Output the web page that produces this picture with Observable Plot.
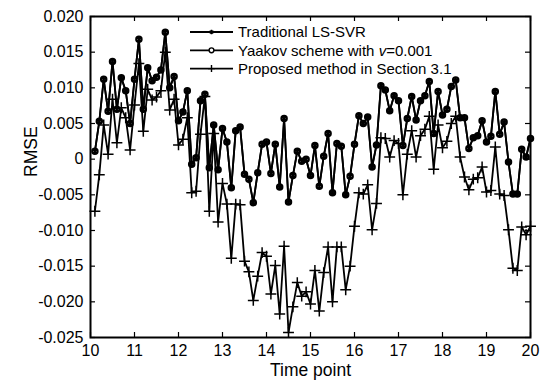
<!DOCTYPE html>
<html><head><meta charset="utf-8">
<script src="https://cdn.jsdelivr.net/npm/d3@7"></script>
<script src="https://cdn.jsdelivr.net/npm/@observablehq/plot@0.6"></script>
<style>body{margin:0;background:#fff;} #chart{width:544px;height:383px;}</style>
</head><body><div id="chart"></div>
<script>
const timePoints = [10.1,10.2,10.3,10.4,10.5,10.6,10.7,10.8,10.9,11.0,
  11.1,11.2,11.3,11.4,11.5,11.6,11.7,11.8,11.9,12.0,
  12.1,12.2,12.3,12.4,12.5,12.6,12.7,12.8,12.9,13.0,
  13.1,13.2,13.3,13.4,13.5,13.6,13.7,13.8,13.9,14.0,
  14.1,14.2,14.3,14.4,14.5,14.6,14.7,14.8,14.9,15.0,
  15.1,15.2,15.3,15.4,15.5,15.6,15.7,15.8,15.9,16.0,
  16.1,16.2,16.3,16.4,16.5,16.6,16.7,16.8,16.9,17.0,
  17.1,17.2,17.3,17.4,17.5,17.6,17.7,17.8,17.9,18.0,
  18.1,18.2,18.3,18.4,18.5,18.6,18.7,18.8,18.9,19.0,
  19.1,19.2,19.3,19.4,19.5,19.6,19.7,19.8,19.9,20.0];

const lsSvr = [0.0011,0.0053,0.0112,0.0067,0.0137,0.0070,0.0114,0.0096,0.0050,0.0112,
  0.0168,0.0070,0.0128,0.0110,0.0115,0.0125,0.0178,0.0100,0.0116,0.0054,
  0.0066,0.0096,-0.0007,0.0002,0.0082,0.0091,-0.0012,0.0048,-0.0015,0.0043,
  0.0024,-0.0040,0.0040,0.0045,-0.0021,-0.0028,-0.0061,-0.0019,0.0021,0.0024,
  -0.0020,0.0021,-0.0039,0.0057,-0.0060,-0.0023,0.0011,-0.0003,0.0000,-0.0023,
  0.0019,-0.0038,0.0004,0.0036,-0.0047,0.0022,0.0018,-0.0050,-0.0024,0.0021,
  0.0061,0.0050,0.0059,-0.0011,0.0020,0.0103,0.0097,0.0068,0.0089,0.0082,
  0.0019,0.0057,0.0088,0.0055,0.0082,0.0089,0.0109,0.0036,0.0095,0.0062,
  0.0070,0.0102,0.0111,0.0058,0.0058,0.0015,0.0030,0.0033,0.0054,0.0024,
  0.0032,0.0095,0.0035,0.0052,-0.0004,-0.0049,-0.0049,0.0014,0.0003,0.0029];

const yaakov = [0.0011,0.0053,0.0112,0.0067,0.0137,0.0070,0.0114,0.0096,0.0050,0.0112,
  0.0168,0.0070,0.0128,0.0110,0.0115,0.0125,0.0178,0.0100,0.0116,0.0054,
  0.0066,0.0096,-0.0007,0.0002,0.0082,0.0091,-0.0012,0.0048,-0.0015,0.0043,
  0.0024,-0.0040,0.0040,0.0045,-0.0021,-0.0028,-0.0061,-0.0019,0.0021,0.0024,
  -0.0020,0.0021,-0.0039,0.0057,-0.0060,-0.0023,0.0011,-0.0003,0.0000,-0.0023,
  0.0019,-0.0038,0.0004,0.0036,-0.0047,0.0022,0.0018,-0.0050,-0.0024,0.0021,
  0.0061,0.0050,0.0059,-0.0011,0.0020,0.0103,0.0097,0.0068,0.0089,0.0082,
  0.0019,0.0057,0.0088,0.0055,0.0082,0.0089,0.0109,0.0036,0.0095,0.0062,
  0.0070,0.0102,0.0111,0.0058,0.0058,0.0015,0.0030,0.0033,0.0054,0.0024,
  0.0032,0.0095,0.0035,0.0052,-0.0004,-0.0049,-0.0049,0.0014,0.0003,0.0029];

const proposed = [-0.0073,-0.0022,0.0048,0.0007,0.0084,0.0023,0.0072,0.0058,0.0013,0.0076,
  0.0134,0.0039,0.0098,0.0083,0.0087,0.0096,0.0150,0.0069,0.0084,0.0020,
  0.0028,0.0058,-0.0047,-0.0045,0.0035,0.0088,-0.0073,0.0036,-0.0088,-0.0034,
  -0.0063,-0.0139,-0.0063,-0.0064,-0.0143,-0.0158,-0.0198,-0.0164,-0.0131,-0.0136,
  -0.0189,-0.0149,-0.0217,-0.0122,-0.0243,-0.0207,-0.0173,-0.0192,-0.0186,-0.0203,
  -0.0156,-0.0213,-0.0159,-0.0123,-0.0200,-0.0123,-0.0123,-0.0183,-0.0150,-0.0094,
  -0.0047,-0.0049,-0.0036,-0.0099,-0.0062,0.0030,0.0029,0.0003,0.0026,0.0022,
  -0.0050,0.0007,0.0040,0.0003,0.0033,0.0042,0.0060,-0.0014,0.0048,0.0016,
  0.0025,0.0050,0.0060,0.0003,-0.0025,-0.0043,-0.0028,-0.0026,-0.0011,-0.0046,
  -0.0044,0.0017,-0.0049,-0.0051,-0.0099,-0.0153,-0.0156,-0.0095,-0.0106,-0.0094];

const xTicks = [10,11,12,13,14,15,16,17,18,19,20];
const yTicks = [-0.025,-0.02,-0.015,-0.01,-0.005,0,0.005,0.01,0.015,0.02];
const seriesNames = ["Traditional LS-SVR", "Yaakov scheme with ", "Proposed method in Section 3.1"];
const xLabel = "Time point";
const yLabel = "RMSE";

const rows = timePoints.map((t, i) => ({t, a: lsSvr[i], b: yaakov[i], c: proposed[i]}));
const font = "'Liberation Sans', Arial, Helvetica, sans-serif";
const lw = 1.8;

const plot = Plot.plot({
  width: 544, height: 383,
  marginLeft: 90, marginRight: 14, marginTop: 16, marginBottom: 46,
  style: {fontFamily: font, fontSize: "16px", color: "black", background: "white"},
  x: {domain: [10, 20]},
  y: {domain: [-0.025, 0.02]},
  marks: [
    Plot.axisX({ticks: xTicks, tickSize: 0, tickPadding: 7, fontSize: 16, label: null}),
    Plot.axisY({ticks: yTicks, tickSize: 0, tickPadding: 7, fontSize: 16, label: null,
      tickFormat: d => d === 0 ? "0" : d.toFixed(3)}),
    Plot.ruleX(xTicks, {insetTop: 316, stroke: "black", strokeWidth: 1.2}),
    Plot.ruleX(xTicks, {insetBottom: 316, stroke: "black", strokeWidth: 1.2}),
    Plot.ruleY(yTicks, {insetRight: 435, stroke: "black", strokeWidth: 1.2}),
    Plot.ruleY(yTicks, {insetLeft: 435, stroke: "black", strokeWidth: 1.2}),
    Plot.line(rows, {x: "t", y: "a", stroke: "black", strokeWidth: lw}),
    Plot.dot(rows, {x: "t", y: "a", symbol: "asterisk", r: 2.6, stroke: "black", strokeWidth: 1.5}),
    Plot.line(rows, {x: "t", y: "b", stroke: "black", strokeWidth: lw}),
    Plot.dot(rows, {x: "t", y: "b", symbol: "circle", r: 2.6, stroke: "black", fill: "none", strokeWidth: 2.3}),
    Plot.line(rows, {x: "t", y: "c", stroke: "black", strokeWidth: lw}),
    Plot.dot(rows, {x: "t", y: "c", symbol: "plus", r: 3.6, stroke: "black", strokeWidth: 1.5}),
    Plot.frame({stroke: "black", strokeWidth: 2}),
    Plot.text([xLabel], {frameAnchor: "bottom", dy: 38.5, fontSize: 17.5, fill: "black"}),
    Plot.text([yLabel], {frameAnchor: "left", dx: -59, rotate: -90, fontSize: 17.5, fill: "black"})
  ]
});
document.getElementById("chart").appendChild(plot);

// legend (inside axes, no box)
const svg = d3.select(plot);
const lg = svg.append("g").attr("font-family", font).attr("font-size", 15)
  .attr("fill", "black").attr("text-anchor", "start");
const rowsY = [32, 50.3, 68.6];
const mx = 211.5;
rowsY.forEach((yy, i) => {
  lg.append("line").attr("x1", 190).attr("x2", 233).attr("y1", yy).attr("y2", yy)
    .attr("stroke", "black").attr("stroke-width", lw);
  if (i === 0) {
    lg.append("path").attr("d", d3.symbol(d3.symbolAsterisk, 14)())
      .attr("transform", `translate(${mx},${yy})`)
      .attr("fill", "none").attr("stroke", "black").attr("stroke-width", 1.5);
  } else if (i === 1) {
    lg.append("circle").attr("cx", mx).attr("cy", yy).attr("r", 2.4)
      .attr("fill", "white").attr("stroke", "black").attr("stroke-width", 1.4);
  } else {
    lg.append("path").attr("d", `M${mx - 3.5},${yy}H${mx + 3.5}M${mx},${yy - 3.5}V${yy + 3.5}`)
      .attr("fill", "none").attr("stroke", "black").attr("stroke-width", 1.4);
  }
  const t = lg.append("text").attr("x", 238).attr("y", yy + 5.3).text(seriesNames[i]);
  if (i === 1) {
    t.append("tspan").attr("font-style", "italic").text("v");
    t.append("tspan").text("=0.001");
  }
});
</script></body></html>
